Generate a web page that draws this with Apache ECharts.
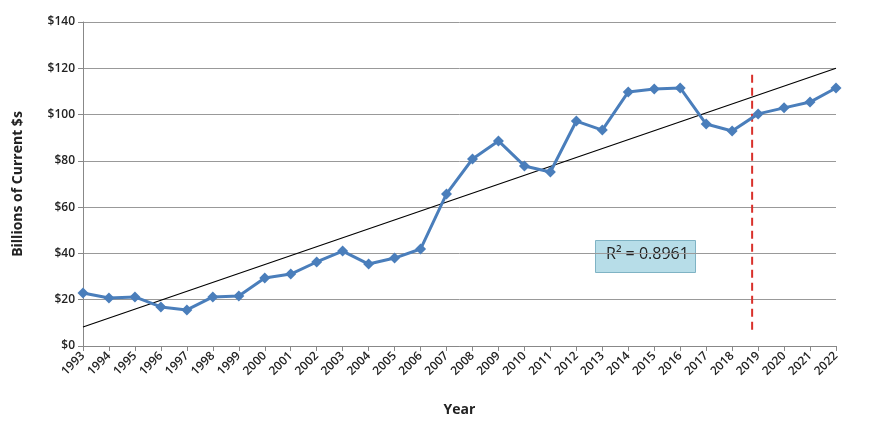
<!DOCTYPE html>
<html>
<head>
<meta charset="utf-8">
<script src="https://cdn.jsdelivr.net/npm/echarts@6/dist/echarts.min.js"></script>
<style>html,body{margin:0;padding:0;background:#fff}#chart{width:870px;height:425px}</style>
</head>
<body>
<div id="chart"></div>
<script>
let years = [1993,1994,1995,1996,1997,1998,1999,2000,2001,2002,2003,2004,2005,2006,2007,2008,2009,2010,2011,2012,2013,2014,2015,2016,2017,2018,2019,2020,2021,2022];
let values = [22.9,20.7,21.2,16.9,15.6,21.2,21.6,29.4,31.1,36.3,41.0,35.4,38.0,41.9,65.7,80.8,88.6,77.8,75.2,97.2,93.3,109.8,111.0,111.5,95.9,92.9,100.3,102.9,105.4,111.5];
let trendEnds = [[1993, 8.2], [2022, 120]];
let dividerX = 2018.77;
let dividerY = [7, 119];

let chart = echarts.init(document.querySelector('#chart'));
let data = years.map((y, i) => [y, values[i]]);

chart.setOption({
  animation: false,
  grid: { left: 83, right: 34, top: 22, bottom: 79 },
  xAxis: {
    type: 'value', min: 1993, max: 2022, interval: 1,
    name: 'Year', nameLocation: 'middle', nameGap: 57,
    nameTextStyle: { fontWeight: 'bold', fontSize: 14, fontFamily: 'Open Sans', color: '#222' },
    axisLine: { lineStyle: { color: '#888' } },
    axisTick: { show: true, lineStyle: { color: '#888' } },
    splitLine: { show: false },
    axisLabel: { rotate: 45, fontSize: 12, fontWeight: 600, fontFamily: 'Open Sans', color: '#222', formatter: v => String(v) }
  },
  yAxis: {
    type: 'value', min: 0, max: 140, interval: 20,
    name: 'Billions of Current $s', nameLocation: 'middle', nameGap: 58,
    nameTextStyle: { fontWeight: 'bold', fontSize: 14, fontFamily: 'Open Sans', color: '#222' },
    axisLine: { show: true, lineStyle: { color: '#888' } },
    axisLabel: { fontSize: 12, fontWeight: 600, fontFamily: 'Open Sans', color: '#222', formatter: v => '$' + v },
    splitLine: { lineStyle: { color: '#999' } }
  },
  series: [
    {
      type: 'line', data: trendEnds, symbol: 'none', silent: true,
      lineStyle: { color: '#000', width: 1.2 }, z: 1
    },
    {
      type: 'line', data: [[dividerX, dividerY[0]], [dividerX, dividerY[1]]], symbol: 'none', silent: true,
      lineStyle: { color: '#d9302b', width: 2, type: [8, 5] }, z: 1
    },
    {
      type: 'line', data: data, symbol: 'diamond', symbolSize: 11,
      lineStyle: { color: '#4a7ebb', width: 3 },
      itemStyle: { color: '#4a7ebb' }, z: 3
    }
  ],
  graphic: [{
    type: 'rect', left: 595, top: 240, shape: { width: 100, height: 32 },
    style: { fill: '#b7dde8', stroke: '#7fb3c4', lineWidth: 1 }
  }, {
    type: 'text', left: 606, top: 246,
    style: { text: 'R² = 0.8961', fontSize: 16, fontFamily: 'Open Sans', fill: '#222' }
  }]
});
</script>
</body>
</html>
